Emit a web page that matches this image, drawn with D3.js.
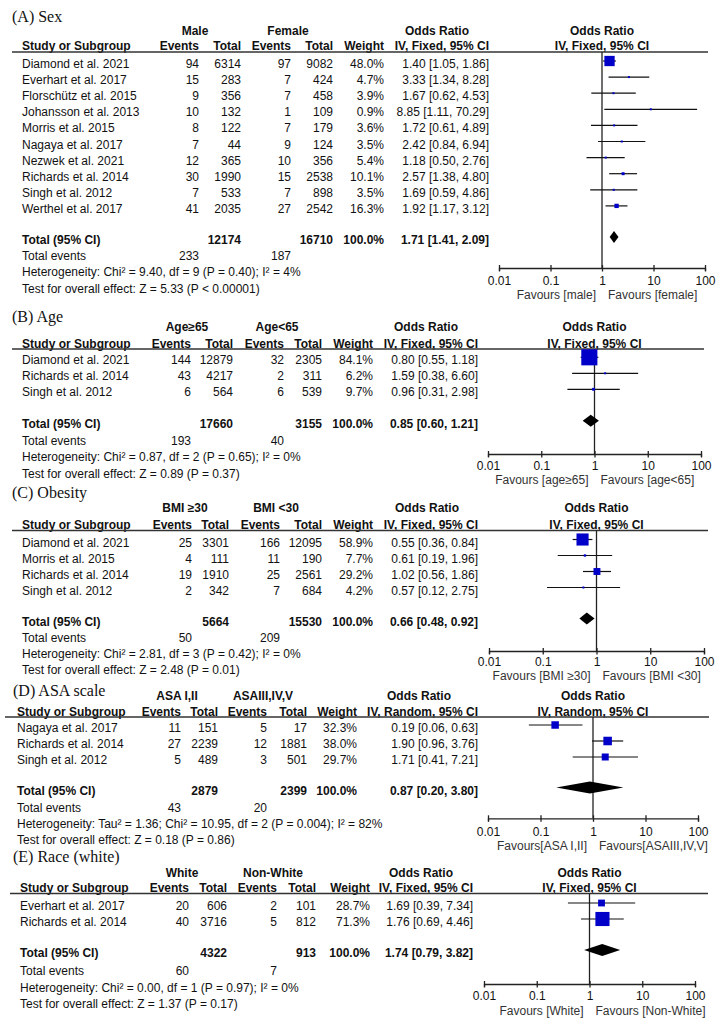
<!DOCTYPE html>
<html><head><meta charset="utf-8">
<script src="https://cdn.jsdelivr.net/npm/d3@7"></script>
<style>
body{margin:0;background:#fff}
svg text{font-family:"Liberation Sans",Arial,Helvetica,sans-serif;font-size:12px;fill:#111}
svg text.title{font-family:"Liberation Serif","Times New Roman",serif;font-size:16px}
</style>
</head><body><svg id="c" width="718" height="1028"></svg>
<script>
// ---------- shared axis ticks ----------
const tickValues = [0.01, 0.1, 1, 10, 100];
const tickLabels = ["0.01", "0.1", "1", "10", "100"];

// ---------- (A) Sex ----------
const aStudies = ["Diamond et al. 2021","Everhart et al. 2017","Florschütz et al. 2015","Johansson et al. 2013","Morris et al. 2015","Nagaya et al. 2017","Nezwek et al. 2021","Richards et al. 2014","Singh et al. 2012","Werthel et al. 2017"];
const aEv1 = [94,15,9,10,8,7,12,30,7,41];
const aTot1 = [6314,283,356,132,122,44,365,1990,533,2035];
const aEv2 = [97,7,7,1,7,9,10,15,7,27];
const aTot2 = [9082,424,458,109,179,124,356,2538,898,2542];
const aWeight = [48.0,4.7,3.9,0.9,3.6,3.5,5.4,10.1,3.5,16.3];
const aOR = [1.40,3.33,1.67,8.85,1.72,2.42,1.18,2.57,1.69,1.92];
const aLo = [1.05,1.34,0.62,1.11,0.61,0.84,0.50,1.38,0.59,1.17];
const aHi = [1.86,8.28,4.53,70.29,4.89,6.94,2.76,4.80,4.86,3.12];
const aTotals = [12174, 16710];
const aTotalEvents = [233, 187];
const aPooled = [1.71, 1.41, 2.09];
const aHet = "Heterogeneity: Chi² = 9.40, df = 9 (P = 0.40); I² = 4%";
const aTest = "Test for overall effect: Z = 5.33 (P < 0.00001)";

// ---------- (B) Age ----------
const bStudies = ["Diamond et al. 2021","Richards et al. 2014","Singh et al. 2012"];
const bEv1 = [144,43,6];
const bTot1 = [12879,4217,564];
const bEv2 = [32,2,6];
const bTot2 = [2305,311,539];
const bWeight = [84.1,6.2,9.7];
const bOR = [0.80,1.59,0.96];
const bLo = [0.55,0.38,0.31];
const bHi = [1.18,6.60,2.98];
const bTotals = [17660, 3155];
const bTotalEvents = [193, 40];
const bPooled = [0.85, 0.60, 1.21];
const bHet = "Heterogeneity: Chi² = 0.87, df = 2 (P = 0.65); I² = 0%";
const bTest = "Test for overall effect: Z = 0.89 (P = 0.37)";

// ---------- (C) Obesity ----------
const cStudies = ["Diamond et al. 2021","Morris et al. 2015","Richards et al. 2014","Singh et al. 2012"];
const cEv1 = [25,4,19,2];
const cTot1 = [3301,111,1910,342];
const cEv2 = [166,11,25,7];
const cTot2 = [12095,190,2561,684];
const cWeight = [58.9,7.7,29.2,4.2];
const cOR = [0.55,0.61,1.02,0.57];
const cLo = [0.36,0.19,0.56,0.12];
const cHi = [0.84,1.96,1.86,2.75];
const cTotals = [5664, 15530];
const cTotalEvents = [50, 209];
const cPooled = [0.66, 0.48, 0.92];
const cHet = "Heterogeneity: Chi² = 2.81, df = 3 (P = 0.42); I² = 0%";
const cTest = "Test for overall effect: Z = 2.48 (P = 0.01)";

// ---------- (D) ASA scale ----------
const dStudies = ["Nagaya et al. 2017","Richards et al. 2014","Singh et al. 2012"];
const dEv1 = [11,27,5];
const dTot1 = [151,2239,489];
const dEv2 = [5,12,3];
const dTot2 = [17,1881,501];
const dWeight = [32.3,38.0,29.7];
const dOR = [0.19,1.90,1.71];
const dLo = [0.06,0.96,0.41];
const dHi = [0.63,3.76,7.21];
const dTotals = [2879, 2399];
const dTotalEvents = [43, 20];
const dPooled = [0.87, 0.20, 3.80];
const dHet = "Heterogeneity: Tau² = 1.36; Chi² = 10.95, df = 2 (P = 0.004); I² = 82%";
const dTest = "Test for overall effect: Z = 0.18 (P = 0.86)";

// ---------- (E) Race (white) ----------
const eStudies = ["Everhart et al. 2017","Richards et al. 2014"];
const eEv1 = [20,40];
const eTot1 = [606,3716];
const eEv2 = [2,5];
const eTot2 = [101,812];
const eWeight = [28.7,71.3];
const eOR = [1.69,1.76];
const eLo = [0.39,0.69];
const eHi = [7.34,4.46];
const eTotals = [4322, 913];
const eTotalEvents = [60, 7];
const ePooled = [1.74, 0.79, 3.82];
const eHet = "Heterogeneity: Chi² = 0.00, df = 1 (P = 0.97); I² = 0%";
const eTest = "Test for overall effect: Z = 1.37 (P = 0.17)";

// ---------- panels (built from the arrays above) ----------
const panels = [
  {title:"(A) Sex", groups:["Male","Female"], method:"IV, Fixed, 95% CI", fav:["Favours [male]","Favours [female]"],
   studies:aStudies, ev1:aEv1, tot1:aTot1, ev2:aEv2, tot2:aTot2, w:aWeight, or:aOR, lo:aLo, hi:aHi,
   totals:aTotals, tev:aTotalEvents, pooled:aPooled, het:aHet, test:aTest},
  {title:"(B) Age", groups:["Age≥65","Age<65"], method:"IV, Fixed, 95% CI", fav:["Favours [age≥65]","Favours [age<65]"],
   studies:bStudies, ev1:bEv1, tot1:bTot1, ev2:bEv2, tot2:bTot2, w:bWeight, or:bOR, lo:bLo, hi:bHi,
   totals:bTotals, tev:bTotalEvents, pooled:bPooled, het:bHet, test:bTest},
  {title:"(C) Obesity", groups:["BMI ≥30","BMI <30"], method:"IV, Fixed, 95% CI", fav:["Favours [BMI ≥30]","Favours [BMI <30]"],
   studies:cStudies, ev1:cEv1, tot1:cTot1, ev2:cEv2, tot2:cTot2, w:cWeight, or:cOR, lo:cLo, hi:cHi,
   totals:cTotals, tev:cTotalEvents, pooled:cPooled, het:cHet, test:cTest},
  {title:"(D) ASA scale", groups:["ASA I,II","ASAIII,IV,V"], method:"IV, Random, 95% CI", fav:["Favours[ASA I,II]","Favours[ASAIII,IV,V]"],
   studies:dStudies, ev1:dEv1, tot1:dTot1, ev2:dEv2, tot2:dTot2, w:dWeight, or:dOR, lo:dLo, hi:dHi,
   totals:dTotals, tev:dTotalEvents, pooled:dPooled, het:dHet, test:dTest},
  {title:"(E) Race (white)", groups:["White","Non-White"], method:"IV, Fixed, 95% CI", fav:["Favours [White]","Favours [Non-White]"],
   studies:eStudies, ev1:eEv1, tot1:eTot1, ev2:eEv2, tot2:eTot2, w:eWeight, or:eOR, lo:eLo, hi:eHi,
   totals:eTotals, tev:eTotalEvents, pooled:ePooled, het:eHet, test:eTest}
];

// layout per panel (positions only)
const layouts = [
  {titleX:12,titleY:22, groupY:35, headY:50, lineY:52, lineX:[12,708], rowY0:68, rowStep:16.1, totalY:244, evY:260, hetY:276, testY:292.5,
   studyX:22, cols:[199,241,291,333,384,489], grp:[195,288], orHeadC:437, fx:[499,705], axisY:268, tickY:285, favY:299},
  {titleX:12,titleY:322, groupY:331, headY:347.5, lineY:349, lineX:[12,704], rowY0:364.3, rowStep:16, totalY:427.7, evY:445.3, hetY:461.3, testY:477.6,
   studyX:22, cols:[191,233,284,322,373,478], grp:[187,277], orHeadC:426, fx:[488,701], axisY:454, tickY:470, favY:483.5},
  {titleX:12,titleY:498, groupY:512, headY:529, lineY:530.5, lineX:[12,708], rowY0:546.5, rowStep:16, totalY:625.5, evY:641.5, hetY:657.5, testY:673.5,
   studyX:22, cols:[192,229,280,322,373,478], grp:[185,276], orHeadC:427, fx:[489,704], axisY:651, tickY:665.7, favY:679.5},
  {titleX:13,titleY:696, groupY:700, headY:715.5, lineY:717, lineX:[5,709], rowY0:732, rowStep:16, totalY:794.5, evY:812, hetY:828.3, testY:844,
   studyX:17, cols:[181,218,267,307,357,478], grp:[177,263], orHeadC:419, fx:[488,698], axisY:818.3, tickY:836, favY:850},
  {titleX:13,titleY:862, groupY:876.7, headY:892, lineY:893.5, lineX:[10,708], rowY0:910, rowStep:16, totalY:957, evY:975, hetY:991.5, testY:1007.5,
   studyX:20, cols:[189,227,277,316,370,473], grp:[182,273], orHeadC:421, fx:[484,695], axisY:984, tickY:1000, favY:1015}
];

const svg = d3.select("#c");
svg.append("rect").attr("width",718).attr("height",1028).attr("fill","#fff");

const size = d3.scalePow().exponent(0.8).domain([0,100]).range([0,18.5]);
const fmt2 = d => d.toFixed(2);
const orText = (o,l,h) => `${fmt2(o)} [${fmt2(l)}, ${fmt2(h)}]`;

function txt(g, x, y, s, anchor, bold, cls){
  const t = g.append("text").attr("x",x).attr("y",y).text(s);
  if(anchor) t.attr("text-anchor",anchor);
  if(bold) t.attr("font-weight","bold");
  if(cls) t.attr("class",cls);
  return t;
}

panels.forEach((p,k) => {
  const L = layouts[k];
  const g = svg.append("g");
  const x = d3.scaleLog().domain([0.01,100]).range(L.fx);
  const nullX = x(1);

  txt(g, L.titleX, L.titleY, p.title, null, false, "title");
  // group headers
  txt(g, L.grp[0], L.groupY, p.groups[0], "middle", true);
  txt(g, L.grp[1], L.groupY, p.groups[1], "middle", true);
  txt(g, L.orHeadC, L.groupY, "Odds Ratio", "middle", true);
  txt(g, nullX, L.groupY, "Odds Ratio", "middle", true);
  // column headers
  txt(g, L.studyX, L.headY, "Study or Subgroup", null, true);
  txt(g, L.cols[0], L.headY, "Events", "end", true);
  txt(g, L.cols[1], L.headY, "Total", "end", true);
  txt(g, L.cols[2], L.headY, "Events", "end", true);
  txt(g, L.cols[3], L.headY, "Total", "end", true);
  txt(g, L.cols[4], L.headY, "Weight", "end", true);
  txt(g, L.cols[5], L.headY, p.method, "end", true);
  txt(g, nullX, L.headY, p.method, "middle", true);
  g.append("line").attr("x1",L.lineX[0]).attr("x2",L.lineX[1]).attr("y1",L.lineY).attr("y2",L.lineY)
    .attr("stroke","#333").attr("stroke-width",1.5);

  // null line
  g.append("line").attr("x1",nullX).attr("x2",nullX).attr("y1",L.lineY).attr("y2",L.axisY)
    .attr("stroke","#222").attr("stroke-width",1.3);

  // study rows
  p.studies.forEach((s,i) => {
    const y = L.rowY0 + i*L.rowStep;
    txt(g, L.studyX, y, s);
    txt(g, L.cols[0], y, p.ev1[i], "end");
    txt(g, L.cols[1], y, p.tot1[i], "end");
    txt(g, L.cols[2], y, p.ev2[i], "end");
    txt(g, L.cols[3], y, p.tot2[i], "end");
    txt(g, L.cols[4], y, p.w[i].toFixed(1)+"%", "end");
    txt(g, L.cols[5], y, orText(p.or[i],p.lo[i],p.hi[i]), "end");
    const my = y - 7;
    g.append("line").attr("x1",x(p.lo[i])).attr("x2",x(p.hi[i])).attr("y1",my).attr("y2",my)
      .attr("stroke","#111").attr("stroke-width",1.2);
    const sz = Math.max(2, size(p.w[i]));
    g.append("rect").attr("x",x(p.or[i])-sz/2).attr("y",my-sz/2).attr("width",sz).attr("height",sz)
      .attr("fill","#0000c8");
  });

  // total row
  txt(g, L.studyX, L.totalY, "Total (95% CI)", null, true);
  txt(g, L.cols[1], L.totalY, p.totals[0], "end", true);
  txt(g, L.cols[3], L.totalY, p.totals[1], "end", true);
  txt(g, L.cols[4], L.totalY, "100.0%", "end", true);
  txt(g, L.cols[5], L.totalY, orText(p.pooled[0],p.pooled[1],p.pooled[2]), "end", true);
  const dy = L.totalY - 7, h = 6;
  g.append("path").attr("d", d3.line()([[x(p.pooled[1]),dy],[x(p.pooled[0]),dy-h],[x(p.pooled[2]),dy],[x(p.pooled[0]),dy+h]]) + "Z")
    .attr("fill","#000");

  txt(g, L.studyX, L.evY, "Total events");
  txt(g, L.cols[0], L.evY, p.tev[0], "end");
  txt(g, L.cols[2], L.evY, p.tev[1], "end");
  txt(g, L.studyX, L.hetY, p.het);
  txt(g, L.studyX, L.testY, p.test);

  // axis
  const ax = g.append("g").attr("transform",`translate(0,${L.axisY})`)
    .call(d3.axisBottom(x).tickValues(tickValues).tickFormat((d,i)=>tickLabels[i]).tickSizeOuter(0).tickSize(3));
  ax.select(".domain").attr("stroke","#222").attr("stroke-width",1.3);
  ax.selectAll(".tick line").attr("y1",-3).attr("y2",3.5).attr("stroke","#222").attr("stroke-width",1.3);
  ax.selectAll(".tick text").attr("y", L.tickY - L.axisY).attr("dy", null)
    .style("font-family",'"Liberation Sans",Arial,sans-serif').style("font-size","12px").attr("fill","#111");
  ax.attr("font-family",null).attr("font-size",null);

  txt(g, nullX - 6, L.favY, p.fav[0], "end").style("fill","#333");
  txt(g, nullX + 6, L.favY, p.fav[1], "start").style("fill","#333");
});
</script></body></html>
